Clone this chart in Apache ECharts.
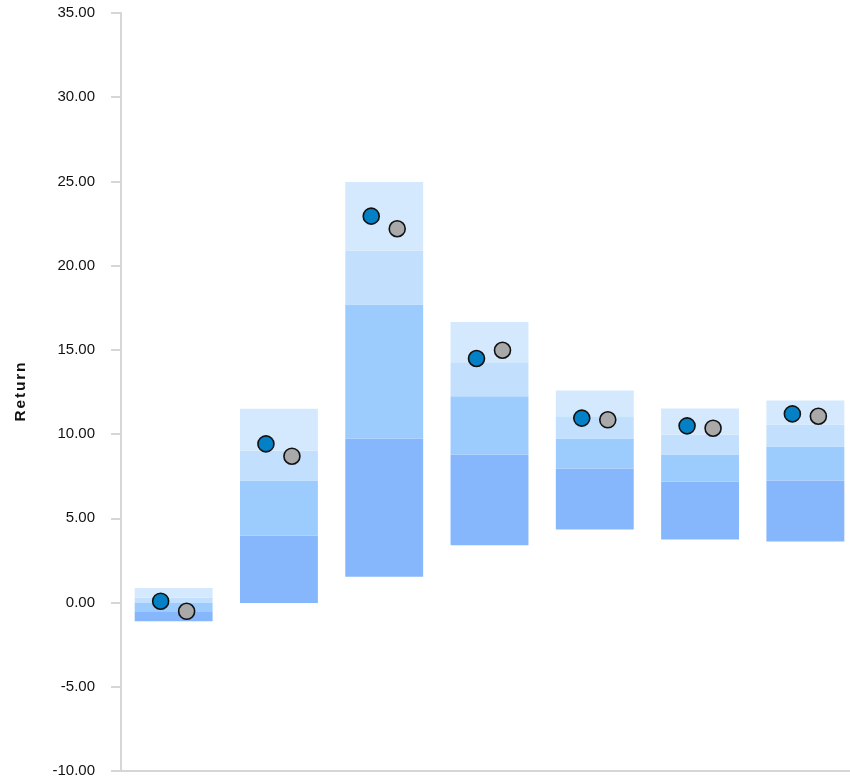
<!DOCTYPE html>
<html>
<head>
<meta charset="utf-8">
<script src="https://cdn.jsdelivr.net/npm/echarts@6/dist/echarts.min.js"></script>
<style>
html,body{margin:0;padding:0;background:#fff;}
#chart{width:850px;height:783px;}
</style>
</head>
<body>
<div id="chart"></div>
<script>
var categories = ["1", "2", "3", "4", "5", "6", "7"];
var p5  = [-1.11, -0.02, 1.53, 3.40, 4.33, 3.74, 3.62];
var p25 = [-0.52, 3.98, 9.74, 8.79, 7.96, 7.19, 7.24];
var p50 = [-0.02, 7.24, 17.70, 12.25, 9.74, 8.79, 9.26];
var p75 = [0.28, 9.03, 20.90, 14.27, 11.06, 9.98, 10.57];
var p95 = [0.87, 11.50, 24.96, 16.65, 12.59, 11.52, 12.00];
var seriesA = [0.08, 9.42, 22.94, 14.49, 10.95, 10.49, 11.20];
var seriesB = [-0.52, 8.69, 22.19, 14.98, 10.85, 10.35, 11.06];
var yTicks = { min: -10, max: 35, interval: 5 };
var axisTitle = "Return";

function diff(a, b) { return a.map(function (v, i) { return +(v - b[i]).toFixed(4); }); }

var segColors = ["#86b7fd", "#9ccbfd", "#c2e0fd", "#d4e9fd"];
var bands = [diff(p25, p5), diff(p50, p25), diff(p75, p50), diff(p95, p75)];

var series = [{
  type: 'bar', stack: 'range', stackStrategy: 'all', data: p5,
  itemStyle: { color: 'transparent' }, barWidth: '74%', silent: true
}];
bands.forEach(function (d, i) {
  series.push({
    type: 'bar', stack: 'range', stackStrategy: 'all', data: d,
    itemStyle: { color: segColors[i] }, barWidth: '74%'
  });
});
series.push({
  type: 'scatter', data: seriesA, symbolSize: 16, symbolOffset: [-13, 0], z: 10,
  itemStyle: { color: '#0481c6', borderColor: '#111', borderWidth: 1.6, opacity: 1 }
});
series.push({
  type: 'scatter', data: seriesB, symbolSize: 16, symbolOffset: [13, 0], z: 10,
  itemStyle: { color: '#a9a9a9', borderColor: '#111', borderWidth: 1.6, opacity: 1 }
});

var spaced = axisTitle.split('').map(function (c) { return '{c|' + c + '}'; }).join('');

var chart = echarts.init(document.getElementById('chart'));
chart.setOption({
  animation: false,
  backgroundColor: '#fff',
  grid: { left: 121, top: 13, width: 737, height: 758, containLabel: false, outerBoundsMode: 'none' },
  xAxis: {
    type: 'category', data: categories,
    axisLine: { onZero: false, lineStyle: { color: '#d6d6d6', width: 2 } },
    axisTick: { inside: true, length: 11, lineStyle: { color: '#d6d6d6', width: 2 } },
    axisLabel: { show: false },
    splitLine: { show: false }
  },
  yAxis: {
    type: 'value', min: yTicks.min, max: yTicks.max, interval: yTicks.interval,
    name: spaced, nameLocation: 'middle', nameGap: 92, nameRotate: 90,
    nameTextStyle: {
      fontFamily: 'Liberation Sans, Arial, sans-serif', fontWeight: 'bold', fontSize: 15.5, color: '#111',
      rich: { c: { fontFamily: 'Liberation Sans, Arial, sans-serif', fontWeight: 'bold', fontSize: 15.5, color: '#111', padding: [0, 0.9, 0, 0.9] } }
    },
    axisLine: { show: true, lineStyle: { color: '#d6d6d6', width: 2 } },
    axisTick: { show: true, length: 10, lineStyle: { color: '#d6d6d6', width: 2 } },
    axisLabel: {
      margin: 26, fontFamily: 'Liberation Sans, Arial, sans-serif', fontSize: 15, color: '#111',
      formatter: function (v) { return v.toFixed(2); }
    },
    splitLine: { show: false }
  },
  series: series
});
</script>
</body>
</html>
